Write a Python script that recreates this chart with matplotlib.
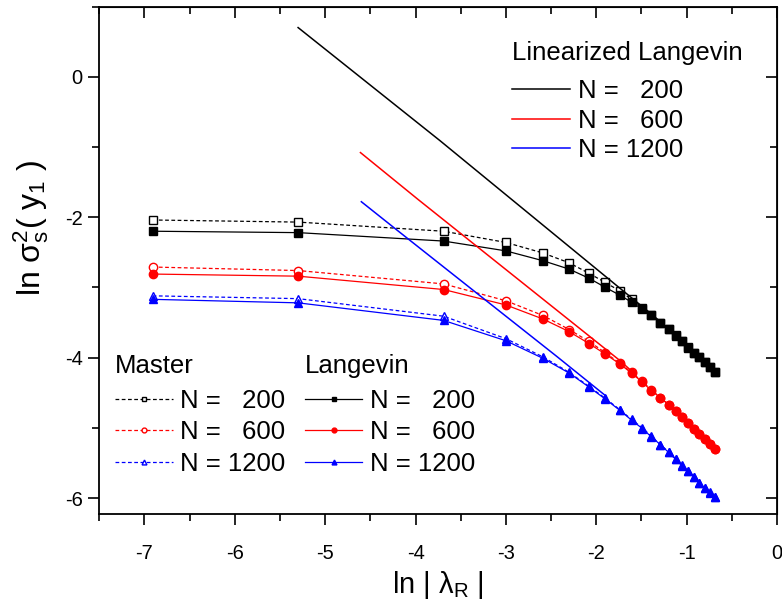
import matplotlib
matplotlib.use('Agg')
import matplotlib.pyplot as plt
from matplotlib.lines import Line2D
from matplotlib.ticker import MultipleLocator

plt.rcParams['font.family'] = ['Liberation Sans', 'DejaVu Sans']
plt.rcParams['mathtext.fontset'] = 'custom'
plt.rcParams['mathtext.rm'] = 'Liberation Sans'
plt.rcParams['mathtext.it'] = 'Liberation Sans'
plt.rcParams['axes.unicode_minus'] = False

# ln|lambda_R| grid shared by Master and Langevin results
ln_lam = [-6.91, -5.30, -3.69, -3.00, -2.59, -2.30, -2.08, -1.90, -1.74, -1.61, -1.49,
          -1.39, -1.29, -1.20, -1.12, -1.05, -0.98, -0.92, -0.86, -0.80, -0.74, -0.69]

master_200 = [-2.04, -2.07, -2.20, -2.36, -2.51, -2.65, -2.80, -2.93, -3.05, -3.17, -3.29,
              -3.39, -3.50, -3.59, -3.68, -3.77, -3.85, -3.93, -3.99, -4.06, -4.13, -4.20]
master_600 = [-2.71, -2.76, -2.95, -3.19, -3.40, -3.60, -3.77, -3.93, -4.08, -4.21, -4.34,
              -4.46, -4.57, -4.67, -4.76, -4.85, -4.93, -5.01, -5.09, -5.16, -5.23, -5.30]
master_1200 = [-3.12, -3.16, -3.41, -3.73, -3.99, -4.21, -4.41, -4.58, -4.74, -4.88, -5.00,
               -5.12, -5.24, -5.34, -5.44, -5.53, -5.62, -5.70, -5.78, -5.85, -5.92, -5.99]

lang_200 = [-2.20, -2.22, -2.34, -2.48, -2.62, -2.74, -2.87, -3.00, -3.11, -3.21, -3.31,
            -3.40, -3.51, -3.59, -3.69, -3.77, -3.86, -3.93, -3.99, -4.06, -4.14, -4.21]
lang_600 = [-2.81, -2.84, -3.03, -3.25, -3.45, -3.63, -3.80, -3.95, -4.09, -4.22, -4.35,
            -4.47, -4.57, -4.67, -4.76, -4.85, -4.93, -5.01, -5.09, -5.16, -5.23, -5.30]
lang_1200 = [-3.17, -3.22, -3.47, -3.76, -4.01, -4.22, -4.42, -4.59, -4.75, -4.89, -5.01,
             -5.13, -5.24, -5.35, -5.45, -5.54, -5.62, -5.70, -5.79, -5.86, -5.93, -5.99]

# linearized Langevin
lin_x_200 = [-5.30, -3.73, -1.38, -1.29]
lin_y_200 = [0.70, -0.91, -3.39, -3.49]
lin_x_600 = [-4.61, -3.97, -1.75, -1.61]
lin_y_600 = [-1.08, -1.75, -4.03, -4.19]
lin_x_1200 = [-4.60, -4.18, -2.44, -1.89]
lin_y_1200 = [-1.78, -2.21, -3.98, -4.55]

labels = ['N =   200', 'N =   600', 'N = 1200']
colors = ['black', 'red', 'blue']
marks = ['s', 'o', '^']

fig = plt.figure(figsize=(7.82, 6.03), dpi=100)
ax = fig.add_axes([0.127, 0.1484, 0.8666, 0.8408])

dash = (0, (3, 2))
for ys, c, m in zip([master_200, master_600, master_1200], colors, marks):
    ax.plot(ln_lam, ys, ls=dash, lw=0.9, color=c, marker=m, ms=6,
            mfc='white', mec=c, mew=1.0)
for ys, c, m in zip([lang_200, lang_600, lang_1200], colors, marks):
    ax.plot(ln_lam, ys, ls='-', lw=0.9, color=c, marker=m, ms=6, mec=c, mfc=c)
for xs, ys, c in zip([lin_x_200, lin_x_600, lin_x_1200],
                     [lin_y_200, lin_y_600, lin_y_1200], colors):
    ax.plot(xs, ys, '-', lw=1.1, color=c)

ax.set_xlim(-7.5, 0)
ax.set_ylim(-6.22, 1.0)
ax.set_xticks(range(-7, 1))
ax.set_yticks([-6, -4, -2, 0])
ax.xaxis.set_minor_locator(MultipleLocator(0.5))
ax.yaxis.set_minor_locator(MultipleLocator(1))
ax.tick_params(which='both', direction='out', width=1.2, labelsize=14.5)
ax.tick_params(which='major', length=8)
ax.tick_params(which='minor', length=5)
ax.tick_params(axis='x', pad=14)
ax.tick_params(axis='y', pad=4)
for s in ax.spines.values():
    s.set_linewidth(1.3)

secx = ax.secondary_xaxis('top')
secx.set_xticks(range(-7, 1))
secx.xaxis.set_minor_locator(MultipleLocator(0.5))
secx.tick_params(which='both', direction='in', width=1.2, labeltop=False)
secx.tick_params(which='major', length=8)
secx.tick_params(which='minor', length=5)
secy = ax.secondary_yaxis('right')
secy.set_yticks([-6, -4, -2, 0])
secy.yaxis.set_minor_locator(MultipleLocator(1))
secy.tick_params(which='both', direction='in', width=1.2, labelright=False)
secy.tick_params(which='major', length=8)
secy.tick_params(which='minor', length=5)

ax.set_xlabel(r'ln | $\mathregular{\lambda_R}$ |', fontsize=21)
ax.xaxis.set_label_coords(0.5, -0.11)
ax.set_ylabel(r'ln $\mathregular{\sigma_s^2}$( y$\mathregular{_1}$ )', fontsize=23)
ax.yaxis.set_label_coords(-0.072, 0.563)

leg_kw = dict(frameon=False, fontsize=18.5, title_fontsize=18.5, alignment='left',
              borderpad=0, borderaxespad=0, handlelength=2.25, handletextpad=0.3,
              loc='upper left')

h_lin = [Line2D([], [], color=c, lw=1.1) for c in colors]
leg1 = ax.legend(h_lin, labels, title='Linearized Langevin', labelspacing=0.2,
                 bbox_to_anchor=(0.609, 0.931), **leg_kw)
leg1._legend_box.sep = 10
ax.add_artist(leg1)

h_mas = [Line2D([], [], color=c, ls=dash, lw=0.9, marker=m, ms=3.5, mfc='white', mec=c)
         for c, m in zip(colors, marks)]
leg2 = ax.legend(h_mas, labels, title='Master', labelspacing=0.3,
                 bbox_to_anchor=(0.023, 0.315), **leg_kw)
leg2._legend_box.sep = 7.8
ax.add_artist(leg2)

h_lan = [Line2D([], [], color=c, lw=0.9, marker=m, ms=3.5, mfc=c, mec=c)
         for c, m in zip(colors, marks)]
leg3 = ax.legend(h_lan, labels, title='Langevin', labelspacing=0.3,
                 bbox_to_anchor=(0.303, 0.315), **leg_kw)
leg3._legend_box.sep = 7.8

fig.savefig('out.png', dpi=100)
